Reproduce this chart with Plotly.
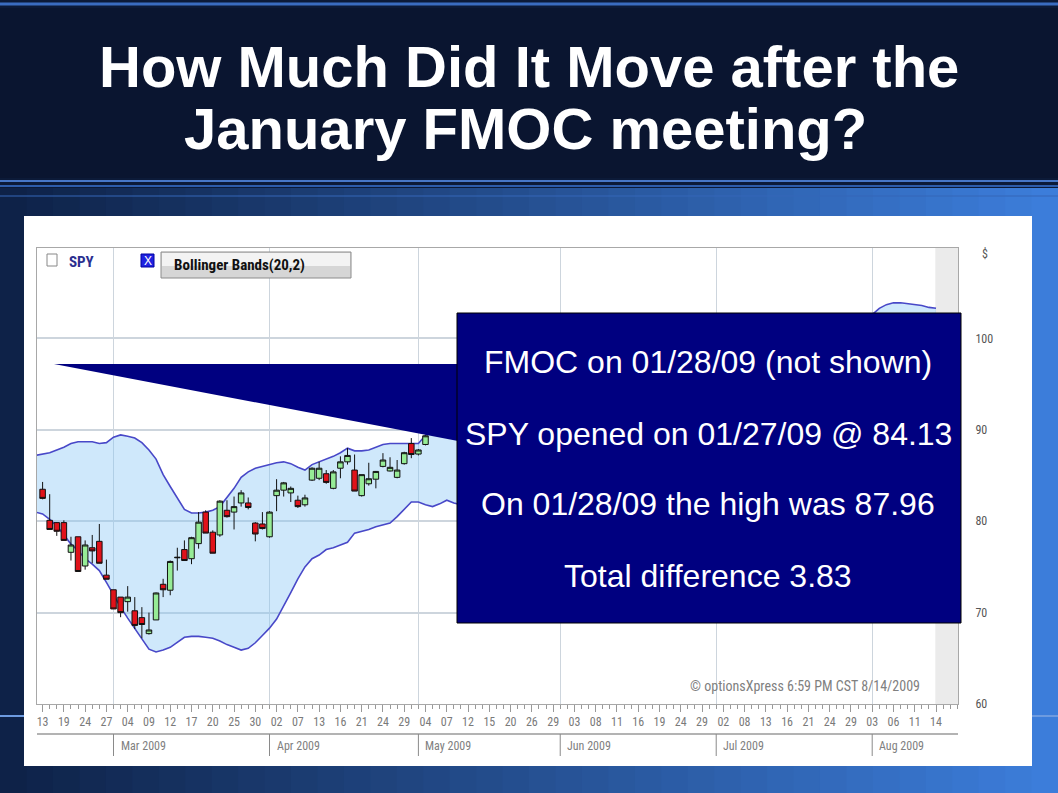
import plotly.graph_objects as go

# ---------------- data ----------------
feb_days = [12, 13, 17, 18, 19, 20, 23, 24, 25, 26, 27]
mar_days = [2, 3, 4, 5, 6, 9, 10, 11, 12, 13, 16, 17, 18, 19, 20, 23, 24, 25, 26, 27, 30, 31]
apr_days = [1, 2, 3, 6, 7, 8, 9, 13, 14, 15, 16, 17, 20, 21, 22, 23, 24, 27, 28, 29, 30]
may_days = [1, 4, 5, 6, 7, 8, 11, 12, 13, 14, 15, 18, 19, 20, 21, 22, 26, 27, 28, 29]
jun_days = [1, 2, 3, 4, 5, 8, 9, 10, 11, 12, 15, 16, 17, 18, 19, 22, 23, 24, 25, 26, 29, 30]
jul_days = [1, 2, 6, 7, 8, 9, 10, 13, 14, 15, 16, 17, 20, 21, 22, 23, 24, 27, 28, 29, 30, 31]
aug_days = [3, 4, 5, 6, 7, 10, 11, 12, 13, 14]
dates = [f"2009-{m:02d}-{d:02d}" for m, days in
         ((2, feb_days), (3, mar_days), (4, apr_days), (5, may_days),
          (6, jun_days), (7, jul_days), (8, aug_days)) for d in days]

tick_dates = ["2009-02-13", "2009-02-19", "2009-02-24", "2009-02-27",
              "2009-03-04", "2009-03-09", "2009-03-12", "2009-03-17", "2009-03-20", "2009-03-25", "2009-03-30",
              "2009-04-02", "2009-04-07", "2009-04-13", "2009-04-16", "2009-04-21", "2009-04-24", "2009-04-29",
              "2009-05-04", "2009-05-07", "2009-05-12", "2009-05-15", "2009-05-20", "2009-05-26", "2009-05-29",
              "2009-06-03", "2009-06-08", "2009-06-11", "2009-06-16", "2009-06-19", "2009-06-24", "2009-06-29",
              "2009-07-02", "2009-07-08", "2009-07-13", "2009-07-16", "2009-07-21", "2009-07-24", "2009-07-29",
              "2009-08-03", "2009-08-06", "2009-08-11", "2009-08-14"]
tick_text = [d[-2:] for d in tick_dates]

month_starts = ["2009-03-02", "2009-04-01", "2009-05-01", "2009-06-01", "2009-07-01", "2009-08-03"]
month_labels = ["Mar 2009", "Apr 2009", "May 2009", "Jun 2009", "Jul 2009", "Aug 2009"]

price_ticks = [60, 70, 80, 90, 100]

# visible candles: 2009-02-13 .. 2009-05-04
candle_dates = dates[1:56]
opens = [83.5, 80.1, 79.85, 79.85, 76.6, 78.3, 75.1, 77.1, 77.8, 74.1,
         72.5, 71.7, 71.2, 70.2, 69.45, 67.7, 69.2, 73.1, 72.45, 76.0,
         76.9, 75.9, 77.55, 81.0, 78.8, 78.5, 81.2, 81.0, 82.0, 82.0,
         79.8, 79.7, 78.3, 82.8, 83.4, 83.1, 82.3, 81.8, 84.5, 84.7,
         85.2, 83.6, 85.8, 86.5, 85.6, 82.8, 84.1, 84.6, 86.0, 85.5,
         84.8, 86.3, 88.5, 87.35, 88.4]
highs = [84.3, 82.96, 79.9, 80.1, 78.3, 78.3, 77.9, 78.5, 79.7, 75.8,
         72.5, 71.7, 72.9, 71.7, 70.6, 70.0, 72.2, 73.7, 75.7, 77.1,
         77.9, 78.3, 81.0, 81.2, 79.0, 82.3, 82.3, 82.7, 83.4, 82.6,
         79.9, 81.0, 81.1, 84.6, 84.3, 83.8, 82.8, 82.9, 85.9, 86.5,
         85.6, 85.6, 87.1, 88.0, 87.3, 85.1, 86.4, 85.5, 87.45, 87.0,
         86.7, 87.6, 89.1, 87.9, 89.4]
lows = [82.4, 79.1, 78.4, 77.9, 75.7, 74.5, 74.7, 75.4, 75.4, 73.65,
        70.4, 69.5, 70.1, 68.2, 67.2, 67.6, 69.2, 71.7, 71.9, 74.6,
        75.65, 75.3, 77.0, 78.7, 76.5, 78.3, 80.4, 79.1, 81.6, 81.3,
        77.8, 79.1, 78.2, 81.1, 82.7, 82.1, 81.45, 81.6, 84.4, 84.5,
        84.1, 83.5, 84.7, 86.2, 83.3, 82.7, 83.9, 83.6, 85.9, 85.45,
        84.7, 86.2, 86.9, 87.2, 88.3]
closes = [82.5, 79.1, 78.9, 77.9, 77.4, 74.5, 77.4, 76.75, 75.4, 73.65,
          70.4, 70.0, 71.7, 68.6, 68.7, 68.1, 72.15, 72.5, 75.6, 76.05,
          75.7, 78.2, 79.9, 78.7, 76.5, 82.2, 80.5, 81.6, 83.1, 81.5,
          78.6, 79.2, 81.0, 83.4, 84.2, 83.6, 81.6, 82.55, 85.8, 85.8,
          84.25, 85.4, 86.5, 87.2, 83.3, 85.1, 84.65, 85.45, 86.7, 85.9,
          85.6, 87.5, 87.3, 87.8, 89.35]

# Bollinger Bands(20,2), one value per trading day in `dates`
bb_upper = [87.2, 87.35, 87.5, 87.8, 88.1, 88.5, 88.7, 88.7, 88.7, 88.5,
            88.6, 89.2, 89.45, 89.3, 89.1, 88.6, 87.8, 86.8, 85.1, 83.8,
            82.6, 81.3, 80.9, 80.9, 81.0, 81.2, 81.6, 82.6, 83.6, 84.8,
            85.4, 85.8, 86.0, 86.2, 86.4, 86.5, 86.3, 85.9, 85.6, 86.2,
            86.5, 86.8, 87.1, 87.5, 88.0, 87.7, 87.7, 87.8, 88.1, 88.4,
            88.5, 88.5, 88.5, 88.5, 88.5, 89.4,
            90.6, 91.5, 92.6, 93.4, 93.8, 94.2, 94.4, 94.6, 94.6, 94.6,
            94.5, 94.5, 94.6, 94.6, 94.5, 94.5, 94.4, 94.4, 94.6, 95.0,
            95.4, 95.6, 95.8, 95.9, 96.0, 96.0, 96.0, 95.9, 95.8, 95.7,
            95.6, 95.6, 95.6, 95.5, 95.4, 95.3, 95.2, 95.1, 95.0, 94.9,
            94.8, 94.8, 94.7, 94.6, 94.5, 94.3, 94.2, 94.2, 94.5, 95.1,
            95.9, 96.6, 97.4, 98.0, 98.6, 99.2, 99.8, 100.3, 100.8, 101.3,
            101.7, 102.1, 102.6, 103.3, 103.7, 103.9, 103.9, 103.8, 103.7, 103.6,
            103.4, 103.3]
bb_lower = [81.0, 80.8, 80.2, 79.5, 78.5, 77.5, 76.8, 75.9, 75.3, 74.6,
            73.3, 71.9, 70.6, 69.4, 68.3, 67.2, 66.0, 65.7, 65.9, 66.2,
            66.8, 67.3, 67.4, 67.4, 67.3, 67.2, 66.9, 66.5, 66.2, 65.9,
            66.1, 66.7, 67.5, 68.3, 69.3, 70.7, 72.2, 73.7, 75.0, 75.9,
            76.3, 76.9, 77.1, 77.4, 77.7, 78.7, 78.9, 79.1, 79.4, 79.6,
            79.8, 80.5, 81.3, 82.1, 82.1, 81.8,
            81.6, 81.9, 82.3, 82.0, 81.8, 81.9, 82.2, 82.8, 83.5, 84.2,
            84.8, 85.3, 85.8, 86.2, 86.6, 86.9, 87.2, 87.5, 87.6, 87.6,
            87.5, 87.6, 87.8, 88.0, 88.2, 88.3, 88.4, 88.4, 88.3, 88.2,
            88.0, 87.8, 87.6, 87.4, 87.2, 87.1, 87.0, 86.9, 86.8, 86.7,
            86.6, 86.4, 86.2, 86.0, 85.8, 85.6, 85.5, 85.5, 85.6, 85.7,
            85.8, 85.9, 86.0, 86.2, 86.4, 86.8, 87.3, 87.9, 88.6, 89.4,
            90.3, 91.2, 92.1, 92.9, 93.6, 94.2, 94.8, 95.4, 95.9, 96.3,
            96.7, 97.0]

callout_lines = ["FMOC on 01/28/09 (not shown)",
                 "SPY opened on 01/27/09 @ 84.13",
                 "On 01/28/09 the high was 87.96",
                 "Total difference 3.83"]

# ---------------- geometry helpers (page pixels -> paper) ----------------
W, H = 1058, 793
ML, MR, MT, MB = 37, 100, 248, 27
PW = W - ML - MR
PH = H - MT - MB
PLOT_BOTTOM = 704


def X(px):
    return (px - ML) / PW


def Y(py):
    return (H - MB - py) / PH


NARROW = "Liberation Sans Narrow, Arial Narrow, Roboto Condensed, Liberation Sans, sans-serif"
SANS = "Liberation Sans, Arial, sans-serif"

fig = go.Figure()

fig.add_trace(go.Scatter(x=dates, y=bb_lower, mode="lines",
                         line=dict(color="#4848c8", width=1.6),
                         hoverinfo="skip", showlegend=False))
fig.add_trace(go.Scatter(x=dates, y=bb_upper, mode="lines", fill="tonexty",
                         fillcolor="rgba(135,198,245,0.40)",
                         line=dict(color="#4848c8", width=1.6),
                         hoverinfo="skip", showlegend=False))
# helper trace so the overlay (minor tick / month grid) axis is drawn
fig.add_trace(go.Scatter(x=[None], y=[None], xaxis="x2", yaxis="y",
                         hoverinfo="skip", showlegend=False))
# candles on an overlaying category axis so they draw above the band fill
fig.add_trace(go.Candlestick(x=candle_dates, open=opens, high=highs, low=lows, close=closes,
                             xaxis="x3", yaxis="y",
                             increasing=dict(fillcolor="#96ec96", line=dict(color="#111111", width=1)),
                             decreasing=dict(fillcolor="#e0121a", line=dict(color="#111111", width=1)),
                             whiskerwidth=0, showlegend=False, hoverinfo="skip"))

xr = [0.21, 130.1]
idx = {d: i for i, d in enumerate(dates)}

shapes = []


def lerp(c1, c2, t):
    return "#%02x%02x%02x" % tuple(int(round(a + (b - a) * t)) for a, b in zip(c1, c2))


# slide background
shapes.append(dict(type="rect", xref="paper", yref="paper", x0=X(0), x1=X(W), y0=Y(0), y1=Y(H),
                   fillcolor="#0c1a38", line=dict(width=0), layer="below"))
N = 40
left_c, right_c = (14, 34, 72), (60, 125, 218)
for k in range(N):
    shapes.append(dict(type="rect", xref="paper", yref="paper",
                       x0=X(W * k / N), x1=X(W * (k + 1) / N + 1), y0=Y(188), y1=Y(H),
                       fillcolor=lerp(left_c, right_c, k / (N - 1)), line=dict(width=0), layer="below"))
shapes.append(dict(type="rect", xref="paper", yref="paper", x0=X(0), x1=X(W), y0=Y(8), y1=Y(178),
                   fillcolor="#0a1530", line=dict(width=0), layer="below"))
for py, col, wd in ((4, "#3a6cc0", 3), (181, "#4777c8", 2), (186, "#2d5cab", 2), (196, "#3467b8", 1),
                    (716, "#6d9be0", 2)):
    shapes.append(dict(type="line", xref="paper", yref="paper", x0=X(0), x1=X(W), y0=Y(py), y1=Y(py),
                       line=dict(color=col, width=wd), layer="below"))
# white chart panel
shapes.append(dict(type="rect", xref="paper", yref="paper", x0=X(24), x1=X(1032), y0=Y(216), y1=Y(766),
                   fillcolor="#ffffff", line=dict(width=0), layer="below"))
# future (grey) zone at right of the plot
shapes.append(dict(type="rect", xref="x2", yref="y domain", x0=126.9, x1=xr[1], y0=0, y1=1,
                   fillcolor="#ebebeb", line=dict(width=0), layer="below"))
# month row
shapes.append(dict(type="line", xref="paper", yref="paper", x0=X(37), x1=X(958), y0=Y(734), y1=Y(734),
                   line=dict(color="#9a9a9a", width=1.5)))
for d in month_starts:
    shapes.append(dict(type="line", xref="x2", yref="paper", x0=idx[d], x1=idx[d], y0=Y(734), y1=Y(756),
                       line=dict(color="#8a8a8a", width=1)))
# legend widgets
shapes.append(dict(type="rect", xref="paper", yref="paper", x0=X(47), x1=X(57), y0=Y(266), y1=Y(254),
                   fillcolor="#ffffff", line=dict(color="#888888", width=1)))
shapes.append(dict(type="rect", xref="paper", yref="paper", x0=X(141), x1=X(154), y0=Y(267), y1=Y(254),
                   fillcolor="#1f22e0", line=dict(color="#0000a0", width=1)))
shapes.append(dict(type="rect", xref="paper", yref="paper", x0=X(161), x1=X(351), y0=Y(278), y1=Y(252),
                   fillcolor="#d6d6d6", line=dict(color="#8c8c8c", width=1)))
shapes.append(dict(type="rect", xref="paper", yref="paper", x0=X(162), x1=X(350), y0=Y(266), y1=Y(253),
                   fillcolor="#f3f3f3", line=dict(width=0)))
# callout pointer and box
shapes.append(dict(type="path", xref="paper", yref="paper",
                   path=f"M {X(54)} {Y(364)} L {X(458)} {Y(364)} L {X(458)} {Y(441)} Z",
                   fillcolor="#000080", line=dict(width=0), layer="above"))
shapes.append(dict(type="rect", xref="paper", yref="paper", x0=X(457), x1=X(961), y0=Y(623), y1=Y(313),
                   fillcolor="#000080", line=dict(color="#000000", width=1), layer="above"))

annotations = []
annotations.append(dict(text="How Much Did It Move after the", x=X(529), y=Y(67), xref="paper", yref="paper",
                        showarrow=False, xanchor="center", yanchor="middle",
                        font=dict(family=SANS, size=58, color="#ffffff", weight="bold")))
annotations.append(dict(text="January FMOC meeting?", x=X(525), y=Y(129), xref="paper", yref="paper",
                        showarrow=False, xanchor="center", yanchor="middle",
                        font=dict(family=SANS, size=58, color="#ffffff", weight="bold")))
for k, (t, py) in enumerate(zip(callout_lines, (362, 434, 504, 576))):
    annotations.append(dict(text=t, x=X(708), y=Y(py), xref="paper", yref="paper", showarrow=False,
                            xanchor="center", yanchor="middle",
                            font=dict(family=SANS, size=32, color="#ffffff")))
annotations.append(dict(text="SPY", x=X(67), y=Y(262), xref="paper", yref="paper", showarrow=False,
                        xanchor="left", yanchor="middle",
                        font=dict(family=NARROW, size=15, color="#2a2f8f", weight="bold")))
annotations.append(dict(text="X", x=X(147.5), y=Y(261), xref="paper", yref="paper", showarrow=False,
                        xanchor="center", yanchor="middle",
                        font=dict(family=SANS, size=12, color="#ffffff")))
annotations.append(dict(text="Bollinger Bands(20,2)", x=X(172), y=Y(265), xref="paper", yref="paper",
                        showarrow=False, xanchor="left", yanchor="middle",
                        font=dict(family=NARROW, size=15, color="#111111", weight="bold")))
annotations.append(dict(text="© optionsXpress 6:59 PM CST 8/14/2009", x=X(922), y=Y(686), xref="paper",
                        yref="paper", showarrow=False, xanchor="right", yanchor="middle",
                        font=dict(family=NARROW, size=14, color="#808080")))
annotations.append(dict(text="$", x=X(985), y=Y(254), xref="paper", yref="paper", showarrow=False,
                        xanchor="center", yanchor="middle",
                        font=dict(family=NARROW, size=12, color="#555555")))
for d, lab in zip(month_starts, month_labels):
    annotations.append(dict(text=lab, x=idx[d], y=Y(746), xref="x2", yref="paper", showarrow=False,
                            xanchor="left", yanchor="middle", xshift=5,
                            font=dict(family=NARROW, size=12, color="#808080")))

fig.update_layout(
    width=W, height=H,
    margin=dict(l=ML, r=MR, t=MT, b=MB),
    paper_bgcolor="#0c1a38",
    plot_bgcolor="rgba(0,0,0,0)",
    showlegend=False,
    boxgap=0.22, boxgroupgap=0.0,
    shapes=shapes,
    annotations=annotations,
    xaxis=dict(type="category", range=xr, anchor="y",
               categoryorder="array", categoryarray=dates,
               tickmode="array", tickvals=tick_dates, ticktext=tick_text,
               ticks="outside", ticklen=7, tickcolor="#999999", tickwidth=1,
               tickfont=dict(family=NARROW, size=12, color="#7a7a7a"),
               showgrid=False, zeroline=False,
               showline=True, linecolor="#a8a8a8", linewidth=1, mirror=True,
               rangeslider=dict(visible=False), fixedrange=True),
    xaxis2=dict(type="linear", range=xr, overlaying="x", anchor="y", side="bottom",
                tickmode="array", tickvals=[idx[d] for d in month_starts],
                ticks="", showticklabels=False,
                showgrid=True, gridcolor="#cdd5dd", gridwidth=1, zeroline=False,
                minor=dict(ticks="outside", ticklen=4, tickcolor="#999999", dtick=1, tick0=0,
                           showgrid=False),
                showline=False, fixedrange=True),
    xaxis3=dict(type="category", range=xr, overlaying="x", anchor="y", side="bottom",
                categoryorder="array", categoryarray=dates,
                visible=False, showgrid=False, zeroline=False,
                rangeslider=dict(visible=False), fixedrange=True),
    yaxis=dict(range=[60, 109.9], domain=[Y(PLOT_BOTTOM), 1], side="right",
               tickmode="array", tickvals=price_ticks, ticks="", ticklabelstandoff=14,
               tickfont=dict(family=NARROW, size=12, color="#555555"),
               showgrid=True, gridcolor="#cdd5dd", gridwidth=1.5, zeroline=False,
               showline=True, linecolor="#a8a8a8", linewidth=1, mirror=True, fixedrange=True),
)

fig.write_html("out.html", config={"displayModeBar": False},
               post_script="document.body.style.margin='0';document.body.style.overflow='hidden';")
